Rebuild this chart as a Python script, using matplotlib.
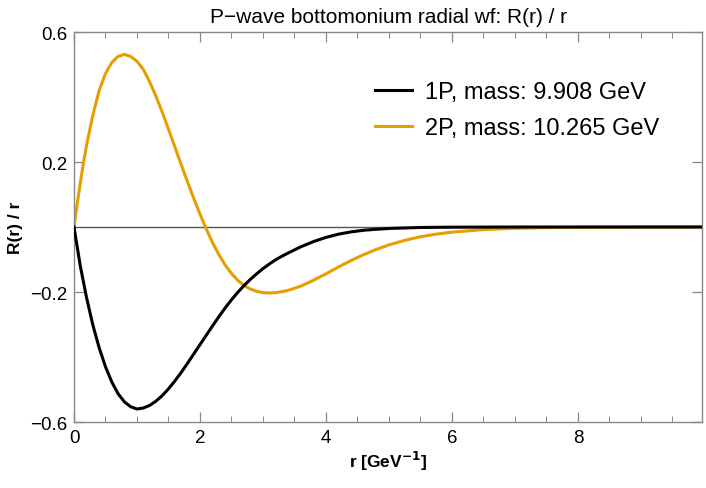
import matplotlib
matplotlib.use("Agg")
import matplotlib.pyplot as plt
from matplotlib.ticker import MultipleLocator

plt.rcParams['font.family'] = ['Liberation Sans', 'DejaVu Sans']

# values
r_1p = [0, 0.1, 0.2, 0.3, 0.4, 0.5, 0.6, 0.7, 0.8, 0.9, 1.0, 1.1, 1.2, 1.3, 1.4,
        1.5, 1.6, 1.7, 1.8, 1.9, 2.0, 2.1, 2.2, 2.3, 2.4, 2.5, 2.6, 2.7, 2.8,
        2.9, 3.0, 3.1, 3.2, 3.3, 3.4, 3.6, 3.8, 4.0, 4.2, 4.4, 4.6, 4.8, 5.0,
        5.5, 6.0, 7.0, 10.0]
wf_1p = [0, -0.12, -0.218, -0.302, -0.372, -0.43, -0.477, -0.513, -0.538,
         -0.553, -0.560, -0.557, -0.549, -0.536, -0.519, -0.498, -0.474,
         -0.448, -0.420, -0.391, -0.362, -0.333, -0.304, -0.276, -0.249,
         -0.224, -0.201, -0.180, -0.161, -0.144, -0.128, -0.114, -0.101,
         -0.090, -0.080, -0.061, -0.045, -0.032, -0.022, -0.015, -0.010,
         -0.007, -0.0045, -0.0015, -0.0005, 0, 0]

r_2p = [0, 0.05, 0.1, 0.15, 0.2, 0.3, 0.4, 0.5, 0.6, 0.7, 0.8, 0.9, 1.0, 1.1,
        1.2, 1.3, 1.4, 1.5, 1.6, 1.7, 1.8, 1.9, 2.0, 2.1, 2.2, 2.3, 2.4, 2.5,
        2.6, 2.7, 2.8, 2.9, 3.0, 3.1, 3.2, 3.3, 3.4, 3.6, 3.8, 4.0, 4.2, 4.4,
        4.6, 4.8, 5.0, 5.25, 5.5, 5.75, 6.0, 6.5, 7.0, 7.5, 8.0, 9.0, 10.0]
wf_2p = [0, 0.07, 0.135, 0.197, 0.252, 0.345, 0.42, 0.472, 0.506, 0.525,
         0.531, 0.525, 0.510, 0.485, 0.447, 0.403, 0.354, 0.301, 0.247,
         0.193, 0.140, 0.089, 0.040, -0.006, -0.048, -0.085, -0.117, -0.143,
         -0.164, -0.180, -0.191, -0.198, -0.202, -0.203, -0.202, -0.199,
         -0.195, -0.182, -0.164, -0.144, -0.123, -0.103, -0.085, -0.069,
         -0.055, -0.041, -0.030, -0.022, -0.016, -0.008, -0.004, -0.002,
         -0.001, 0, 0]

labels = ["1P, mass: 9.908 GeV", "2P, mass: 10.265 GeV"]
colors = ["black", "#E69F00"]

fig = plt.figure(figsize=(7.06, 4.89), dpi=100)
ax = fig.add_axes([74 / 706, 1 - 423 / 489, 628 / 706, 390 / 489])

ax.axhline(0, color="#555555", lw=1.0, zorder=1)
ax.plot(r_1p, wf_1p, color=colors[0], lw=2.2, label=labels[0], zorder=3)
ax.plot(r_2p, wf_2p, color=colors[1], lw=2.2, label=labels[1], zorder=2)

ax.set_xlim(0, 9.97)
ax.set_ylim(-0.6, 0.6)
ax.set_xticks([0, 2, 4, 6, 8])
ax.xaxis.set_minor_locator(MultipleLocator(0.5))
ax.set_yticks([-0.6, -0.2, 0.2, 0.6])
ax.set_yticklabels(["\u22120.6", "\u22120.2", "0.2", "0.6"])

gray = "#888888"
for s in ax.spines.values():
    s.set_color(gray)
    s.set_linewidth(1.0)
ax.tick_params(which="both", direction="in", top=True, right=True, color=gray,
               labelsize=13.5, labelcolor="black")
ax.tick_params(which="major", length=7, width=0.9, pad=5)
ax.tick_params(which="minor", length=4, width=0.7)

ax.set_title("P\u2212wave bottomonium radial wf: R(r) / r", fontsize=15, pad=7)
ax.set_xlabel("r [GeV$^{\\mathbf{-1}}$]", fontsize=12.5, fontweight="bold")
ax.set_ylabel("R(r) / r", fontsize=12.5, fontweight="bold")
ax.xaxis.set_label_coords(0.5, -0.068)
ax.yaxis.set_label_coords(-0.082, 0.5)

leg = ax.legend(loc="upper left", bbox_to_anchor=(0.445, 0.928), frameon=False,
                fontsize=17, handlelength=1.6, handletextpad=0.55,
                labelspacing=0.6)

fig.savefig("out.png", dpi=100)
